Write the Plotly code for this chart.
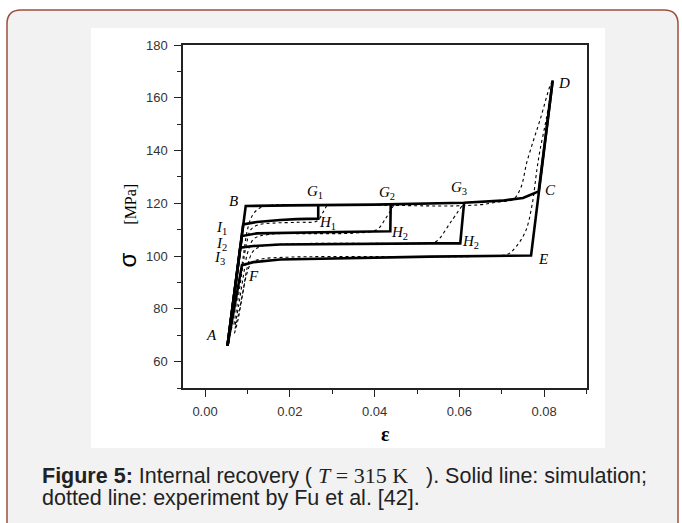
import plotly.graph_objects as go

# ---- simulation (solid lines) ----
sim_load_x = [0.0053, 0.0096, 0.020, 0.040, 0.061, 0.070, 0.075, 0.0787, 0.0820]
sim_load_y = [66.0, 119.0, 119.2, 119.5, 120.2, 121.0, 122.0, 124.5, 166.5]

sim_unload_x = [0.0820, 0.0787, 0.0769, 0.053, 0.0279, 0.0177, 0.0114, 0.0087, 0.0053]
sim_unload_y = [166.5, 124.5, 100.2, 99.8, 99.1, 98.7, 97.7, 96.5, 66.0]

sim_loop1_x = [0.0267, 0.0267, 0.0216, 0.0177, 0.0122, 0.0090, 0.0053]
sim_loop1_y = [119.3, 114.2, 114.0, 113.7, 112.9, 112.0, 66.0]

sim_loop2_x = [0.0438, 0.0437, 0.031, 0.0193, 0.0122, 0.0087, 0.0053]
sim_loop2_y = [119.5, 109.4, 109.1, 108.9, 108.6, 107.6, 66.0]

sim_loop3_x = [0.0611, 0.0602, 0.053, 0.0177, 0.0114, 0.0083, 0.0053]
sim_loop3_y = [120.2, 104.8, 104.8, 104.4, 103.8, 103.2, 66.0]

# ---- experiment (dotted lines) ----
exp_load_x = [0.0062, 0.0072, 0.0083, 0.0092, 0.0100, 0.0112, 0.0130, 0.016, 0.030,
              0.045, 0.058, 0.065, 0.069, 0.0727, 0.0745, 0.0759, 0.0775, 0.0791, 0.0814, 0.0820]
exp_load_y = [72, 82, 92, 102, 110, 115.5, 118.3, 119.3, 119.4,
              119.2, 119.0, 119.5, 120.5, 121.5, 126, 135.5, 144, 152, 164.6, 166.5]

exp_unload_x = [0.0820, 0.0805, 0.0790, 0.0783, 0.0771, 0.0755, 0.0728, 0.0712, 0.065,
                0.040, 0.020, 0.013, 0.011, 0.0098, 0.0088, 0.0078, 0.0068]
exp_unload_y = [166.5, 152, 140, 133, 119, 109, 102.5, 100.6, 99.9,
                99.8, 99.6, 98.8, 97.5, 93, 85, 76, 70]

exp_loop1_x = [0.0287, 0.0278, 0.0264, 0.022, 0.016, 0.0125, 0.0108, 0.0097, 0.0088, 0.0078, 0.0068]
exp_loop1_y = [119.2, 116.5, 113.3, 112.8, 112.5, 111.8, 110, 104, 95, 84, 74]

exp_loop2_x = [0.0445, 0.0425, 0.0405, 0.035, 0.025, 0.015, 0.0115, 0.0100, 0.0090, 0.0080, 0.0070]
exp_loop2_y = [119.3, 114, 110, 108.7, 108.5, 108.2, 106.5, 101, 92, 82, 73]

exp_loop3_x = [0.0606, 0.058, 0.0547, 0.053, 0.040, 0.020, 0.013, 0.0112, 0.0100, 0.0090, 0.0079, 0.0070]
exp_loop3_y = [119, 113, 105.7, 104.9, 104.8, 104.6, 103.6, 101.5, 96, 87, 78, 72]

# ---- point labels ----
label_text = ["<i>A</i>", "<i>B</i>", "<i>C</i>", "<i>D</i>", "<i>E</i>", "<i>F</i>",
              "<i>G</i><sub>1</sub>", "<i>G</i><sub>2</sub>", "<i>G</i><sub>3</sub>",
              "<i>H</i><sub>1</sub>", "<i>H</i><sub>2</sub>", "<i>H</i><sub>2</sub>",
              "<i>I</i><sub>1</sub>", "<i>I</i><sub>2</sub>", "<i>I</i><sub>3</sub>"]
label_x = [0.0016, 0.0067, 0.0814, 0.0846, 0.0797, 0.0114,
           0.0260, 0.0429, 0.0598,
           0.0290, 0.0458, 0.0627,
           0.0039, 0.0039, 0.0035]
label_y = [70.2, 120.9, 125.0, 165.5, 99.0, 92.4,
           124.3, 124.0, 125.7,
           112.7, 108.6, 105.5,
           110.8, 104.4, 99.1]

x_ticks = [0.00, 0.02, 0.04, 0.06, 0.08]
y_ticks = [60, 80, 100, 120, 140, 160, 180]

fig = go.Figure()

solid = dict(color="black", width=2.6)
dotted = dict(color="black", width=1.1, dash="dot")

for xs, ys in [(exp_load_x, exp_load_y), (exp_unload_x, exp_unload_y),
               (exp_loop1_x, exp_loop1_y), (exp_loop2_x, exp_loop2_y),
               (exp_loop3_x, exp_loop3_y)]:
    fig.add_trace(go.Scatter(x=xs, y=ys, mode="lines", line=dotted,
                             line_shape="spline", showlegend=False, hoverinfo="skip"))

for xs, ys in [(sim_load_x, sim_load_y), (sim_unload_x, sim_unload_y),
               (sim_loop1_x, sim_loop1_y), (sim_loop2_x, sim_loop2_y),
               (sim_loop3_x, sim_loop3_y)]:
    fig.add_trace(go.Scatter(x=xs, y=ys, mode="lines", line=solid,
                             showlegend=False, hoverinfo="skip"))

for t, x, y in zip(label_text, label_x, label_y):
    fig.add_annotation(x=x, y=y, text=t, showarrow=False,
                       font=dict(family="Liberation Serif", size=15, color="black"))

# plot area in pixels: left 183, right 587, top 45, bottom 388
L, R, T, B = 183, 587, 45, 388
W, H = 682, 523


def px(xp):
    return (xp - L) / (R - L)


def py(yp):
    return (B - yp) / (B - T)


# rounded gray panel with brown border
x0, x1, y0, y1, r = 7, 678, 10, 560, 14
path = (f"M {px(x0)},{py(y1)} L {px(x0)},{py(y0 + r)} "
        f"Q {px(x0)},{py(y0)} {px(x0 + r)},{py(y0)} "
        f"L {px(x1 - r)},{py(y0)} Q {px(x1)},{py(y0)} {px(x1)},{py(y0 + r)} "
        f"L {px(x1)},{py(y1)} Z")
fig.add_shape(type="path", path=path, xref="paper", yref="paper", layer="below",
              fillcolor="#f2f2f2", line=dict(color="#9e4f3c", width=1.5))
# white chart panel
fig.add_shape(type="rect", xref="paper", yref="paper", layer="below",
              x0=px(91), x1=px(605), y0=py(448), y1=py(28),
              fillcolor="white", line=dict(width=0))

# axis titles
fig.add_annotation(x=px(111), y=py(226), xref="paper", yref="paper", showarrow=False,
                   textangle=-90,
                   text="<span style='font-family:Liberation Sans;font-size:24px'>σ</span>"
                        "       <span style='font-family:Liberation Serif'>[MPa]</span>",
                   font=dict(family="Liberation Serif", size=16, color="black"))
fig.add_annotation(x=px(385), y=py(447), xref="paper", yref="paper", showarrow=False,
                   text="<b>ε</b>",
                   font=dict(family="Liberation Serif", size=20, color="black"))

# caption
cap_font = dict(family="Liberation Sans", size=21.5, color="#222222")
fig.add_annotation(x=px(40), y=py(475), xref="paper", yref="paper", showarrow=False,
                   xanchor="left", yanchor="middle", font=cap_font,
                   text="<b>Figure 5:</b> Internal recovery ( <span style='font-family:Liberation Serif;font-size:22px'>"
                        "<i>T</i> = 315 K</span>   ). Solid line: simulation;")
fig.add_annotation(x=px(40), y=py(498), xref="paper", yref="paper", showarrow=False,
                   xanchor="left", yanchor="middle", font=cap_font,
                   text="dotted line: experiment by Fu et al. [42].")

axis_common = dict(showline=True, linecolor="#222222", linewidth=1.5, mirror=True,
                   showgrid=False, zeroline=False, ticks="outside", ticklen=7,
                   tickwidth=1.2, tickcolor="#222222", ticklabelstandoff=4,
                   tickfont=dict(family="Liberation Sans", size=13, color="#333333"))

fig.update_layout(
    width=W, height=H,
    margin=dict(l=L, r=W - R, t=T, b=H - B, pad=0),
    paper_bgcolor="white", plot_bgcolor="white",
    xaxis=dict(range=[-0.0052, 0.0901], tickvals=x_ticks, tickformat=".2f",
               minor=dict(ticks="outside", ticklen=4, dtick=0.01, tick0=0,
                          tickcolor="#222222"),
               **axis_common),
    yaxis=dict(range=[50, 180], tickvals=y_ticks,
               minor=dict(ticks="outside", ticklen=4, dtick=10, tick0=0,
                          tickcolor="#222222"),
               **axis_common),
)

fig.write_html("out.html")
